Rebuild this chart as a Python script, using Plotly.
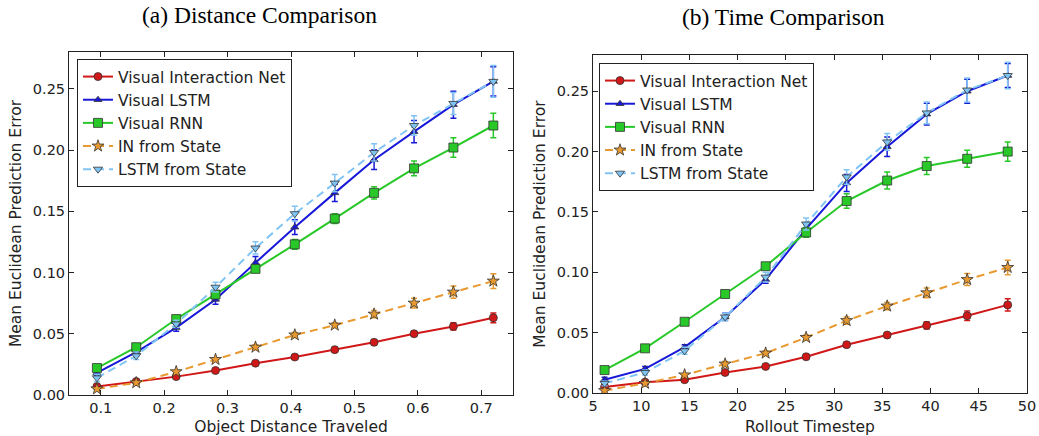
import plotly.graph_objects as go

# ---------------- data ----------------
series_names = ["Visual Interaction Net", "Visual LSTM", "Visual RNN", "IN from State", "LSTM from State"]

dist_x = [0.094, 0.156, 0.219, 0.281, 0.344, 0.406, 0.469, 0.531, 0.594, 0.656, 0.719]
dist_vin = [0.007, 0.011, 0.015, 0.020, 0.026, 0.031, 0.037, 0.043, 0.050, 0.056, 0.063]
dist_vlstm = [0.018, 0.035, 0.055, 0.078, 0.108, 0.137, 0.165, 0.192, 0.215, 0.237, 0.256]
dist_vrnn = [0.022, 0.039, 0.062, 0.082, 0.103, 0.123, 0.144, 0.165, 0.185, 0.202, 0.220]
dist_in = [0.005, 0.010, 0.019, 0.029, 0.039, 0.049, 0.057, 0.066, 0.075, 0.084, 0.093]
dist_lstm = [0.014, 0.032, 0.058, 0.088, 0.120, 0.148, 0.173, 0.198, 0.220, 0.238, 0.256]

dist_vin_err = [0.001, 0.001, 0.001, 0.001, 0.001, 0.001, 0.002, 0.002, 0.002, 0.003, 0.004]
dist_vlstm_err = [0.002, 0.003, 0.003, 0.004, 0.005, 0.006, 0.007, 0.008, 0.009, 0.011, 0.012]
dist_vrnn_err = [0.002, 0.002, 0.002, 0.003, 0.003, 0.004, 0.004, 0.005, 0.006, 0.008, 0.010]
dist_in_err = [0.001, 0.001, 0.001, 0.001, 0.002, 0.002, 0.002, 0.003, 0.004, 0.005, 0.006]
dist_lstm_err = [0.003, 0.003, 0.003, 0.004, 0.005, 0.006, 0.007, 0.007, 0.008, 0.009, 0.013]

time_x = [6.2, 10.4, 14.5, 18.7, 22.9, 27.1, 31.3, 35.5, 39.6, 43.8, 48.0]
time_vin = [0.005, 0.009, 0.011, 0.017, 0.022, 0.030, 0.040, 0.048, 0.056, 0.064, 0.073]
time_vlstm = [0.011, 0.020, 0.038, 0.063, 0.094, 0.136, 0.174, 0.204, 0.231, 0.250, 0.263]
time_vrnn = [0.019, 0.037, 0.059, 0.082, 0.105, 0.133, 0.159, 0.176, 0.188, 0.194, 0.200]
time_in = [0.002, 0.008, 0.015, 0.024, 0.033, 0.046, 0.060, 0.072, 0.083, 0.094, 0.104]
time_lstm = [0.008, 0.017, 0.035, 0.063, 0.096, 0.140, 0.179, 0.208, 0.232, 0.251, 0.263]

time_vin_err = [0.001, 0.001, 0.001, 0.001, 0.001, 0.002, 0.002, 0.002, 0.003, 0.004, 0.005]
time_vlstm_err = [0.002, 0.002, 0.002, 0.003, 0.003, 0.004, 0.007, 0.008, 0.009, 0.010, 0.010]
time_vrnn_err = [0.002, 0.002, 0.002, 0.002, 0.003, 0.004, 0.006, 0.007, 0.007, 0.007, 0.008]
time_in_err = [0.001, 0.001, 0.001, 0.002, 0.002, 0.002, 0.003, 0.003, 0.004, 0.005, 0.006]
time_lstm_err = [0.002, 0.002, 0.003, 0.003, 0.004, 0.005, 0.006, 0.007, 0.009, 0.010, 0.011]

# ---------------- styles ----------------
colors = ["#d01818", "#1818d8", "#28c828", "#e89a30", "#80c4f4"]
symbols = ["circle", "triangle-up", "square", "star", "triangle-down"]
msizes = [8, 7, 9, 9, 8]
dashes = ["solid", "solid", "solid", "8px,5px", "8px,5px"]

FONT = "DejaVu Sans"

fig = go.Figure()

def add_panel(xs, ys_list, errs_list, xa, ya, legend):
    for i, (ys, es) in enumerate(zip(ys_list, errs_list)):
        fig.add_trace(go.Scatter(
            x=xs, y=ys, name=series_names[i], mode="lines+markers",
            line=dict(color=colors[i], width=2, dash=dashes[i]),
            marker=dict(symbol=symbols[i], size=msizes[i], color=colors[i],
                        line=dict(color="#333333", width=0.8)),
            error_y=dict(type="data", array=es, visible=True, color=colors[i],
                         thickness=1.5, width=3),
            xaxis=xa, yaxis=ya, legend=legend,
        ))

add_panel(dist_x, [dist_vin, dist_vlstm, dist_vrnn, dist_in, dist_lstm],
          [dist_vin_err, dist_vlstm_err, dist_vrnn_err, dist_in_err, dist_lstm_err],
          "x", "y", "legend")
add_panel(time_x, [time_vin, time_vlstm, time_vrnn, time_in, time_lstm],
          [time_vin_err, time_vlstm_err, time_vrnn_err, time_in_err, time_lstm_err],
          "x2", "y2", "legend2")

W, H = 1039, 436

def fx(px):
    return px / W

def fy(py):
    return 1 - py / H

axis_common = dict(showline=True, mirror="ticks", linecolor="#222222", linewidth=1,
                   ticks="inside", ticklen=5, tickcolor="#222222", showgrid=False,
                   zeroline=False, tickfont=dict(family=FONT, size=14.5, color="#222222"),
                   automargin=False)
title_font = dict(family=FONT, size=15.5, color="#222222")
leg_common = dict(xanchor="left", yanchor="top", bordercolor="#222222", borderwidth=1,
                  bgcolor="white", font=dict(family=FONT, size=15.5, color="#222222"))

fig.update_layout(
    width=W, height=H, margin=dict(l=0, r=0, t=0, b=0),
    paper_bgcolor="white", plot_bgcolor="white",
    xaxis=dict(axis_common, domain=[fx(69), fx(513)], range=[0.05, 0.75],
               tickvals=[0.1, 0.2, 0.3, 0.4, 0.5, 0.6, 0.7], anchor="y",
               title=dict(text="Object Distance Traveled", standoff=10, font=title_font)),
    yaxis=dict(axis_common, domain=[fy(395), fy(52)], range=[0, 0.28],
               tickvals=[0, 0.05, 0.1, 0.15, 0.2, 0.25], tickformat=".2f", anchor="x",
               title=dict(text="Mean Euclidean Prediction Error", standoff=7, font=title_font)),
    xaxis2=dict(axis_common, domain=[fx(593), fx(1027)], range=[5, 50],
                tickvals=[5, 10, 15, 20, 25, 30, 35, 40, 45, 50], anchor="y2",
                title=dict(text="Rollout Timestep", standoff=10, font=title_font)),
    yaxis2=dict(axis_common, domain=[fy(393), fy(55)], range=[0, 0.28],
                tickvals=[0, 0.05, 0.1, 0.15, 0.2, 0.25], tickformat=".2f", anchor="x2",
                title=dict(text="Mean Euclidean Prediction Error", standoff=7, font=title_font)),
    legend=dict(leg_common, x=fx(77), y=fy(59)),
    legend2=dict(leg_common, x=fx(599), y=fy(63)),
    showlegend=True,
    annotations=[
        dict(text="(a) Distance Comparison", x=fx(259), y=fy(15), xref="paper", yref="paper",
             xanchor="center", yanchor="middle", showarrow=False,
             font=dict(family="Liberation Serif", size=23.5, color="black")),
        dict(text="(b) Time Comparison", x=fx(783), y=fy(17), xref="paper", yref="paper",
             xanchor="center", yanchor="middle", showarrow=False,
             font=dict(family="Liberation Serif", size=23.5, color="black")),
    ],
)

# remove the browser's default 8px body margin so the figure fills the window exactly
fig.write_html("out.html", config={"displayModeBar": False},
               post_script="document.body.style.margin='0';")
